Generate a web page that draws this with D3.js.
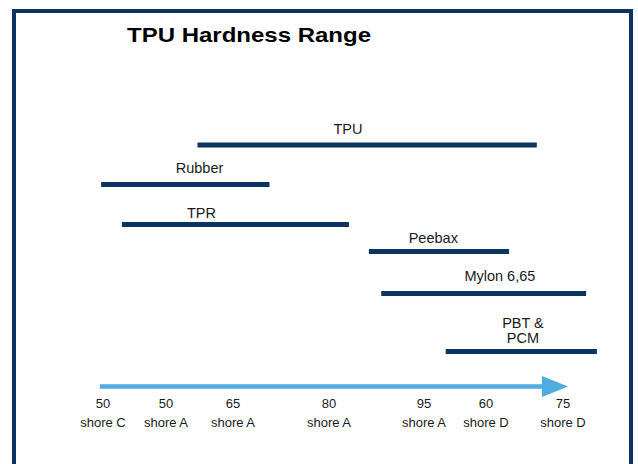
<!DOCTYPE html>
<html>
<head>
<meta charset="utf-8">
<script src="https://cdn.jsdelivr.net/npm/d3@7"></script>
<style>
  body { margin: 0; background: #fff; }
  svg text { font-family: "Liberation Sans", Arial, Helvetica, sans-serif; fill: #1a1a1a; }
</style>
</head>
<body>
<svg id="chart" width="638" height="464"></svg>
<script>
// hardness scale ticks (position along the arrow, in tick-index units)
const tickValues = ["50", "50", "65", "80", "95", "60", "75"];
const tickUnits  = ["shore C", "shore A", "shore A", "shore A", "shore A", "shore D", "shore D"];

// materials and their hardness ranges (tick-index units)
const materials = ["TPU", "Rubber", "TPR", "Peebax", "Mylon 6,65", "PBT &\nPCM"];
const rangeFrom = [1.47, -0.03, 0.30, 3.42, 3.55, 4.35];
const rangeTo   = [5.66, 2.38, 3.21, 5.30, 6.30, 6.44];
const labelAt   = [3.20, 1.50, 1.53, 4.15, 5.18, 5.48];

const width = 638, height = 464;
const navy = "#0b3461", sky = "#4dade0";

const svg = d3.select("#chart");

// frame
svg.append("rect")
    .attr("x", 14).attr("y", 11)
    .attr("width", 617).attr("height", 470)
    .attr("fill", "none")
    .attr("stroke", navy)
    .attr("stroke-width", 4);

svg.append("text")
    .attr("x", 127).attr("y", 42)
    .attr("textLength", 244)
    .attr("lengthAdjust", "spacingAndGlyphs")
    .style("font-size", "21px")
    .style("font-weight", "bold")
    .style("fill", "#000")
    .text("TPU Hardness Range");

// piecewise scale, tick spacing is uneven
const x = d3.scaleLinear()
    .domain(d3.range(tickValues.length))
    .range([103, 166, 233, 329, 424, 486, 563]);

// vertical slot per material row, and label gap above each bar
const rowY = [145, 184.5, 224.5, 251.5, 293.5, 351.5];
const labelGap = [11, 11.5, 7, 8.5, 12.5, 8.5];

const rows = materials.map((m, i) => ({name: m, from: rangeFrom[i], to: rangeTo[i], at: labelAt[i], y: rowY[i], gap: labelGap[i]}));

// BARS
svg.append("g")
  .selectAll("line")
  .data(rows)
  .join("line")
    .attr("x1", d => x(d.from))
    .attr("x2", d => x(d.to))
    .attr("y1", d => d.y)
    .attr("y2", d => d.y)
    .attr("stroke", navy)
    .attr("stroke-width", 5);

// BAR LABELS
const lbl = svg.append("g")
  .selectAll("text")
  .data(rows)
  .join("text")
    .attr("text-anchor", "middle")
    .style("font-size", "14.5px");

lbl.each(function(d) {
  const lines = d.name.split("\n");
  d3.select(this).selectAll("tspan")
    .data(lines)
    .join("tspan")
      .attr("x", x(d.at))
      .attr("y", (l, j) => d.y - d.gap - (lines.length - 1 - j) * 15)
      .text(l => l);
});

// ARROW AXIS
const ay = 386.5;
const x0 = x(-0.05), tip = x(6.065), headLen = 26;
svg.append("line")
    .attr("x1", x0).attr("x2", tip - headLen + 1)
    .attr("y1", ay).attr("y2", ay)
    .attr("stroke", sky)
    .attr("stroke-width", 4.5);
svg.append("path")
    .attr("d", d3.line()([[tip - headLen, ay - 10.5], [tip, ay], [tip - headLen, ay + 10.5]]))
    .attr("fill", sky);

// TICK LABELS
const ticks = svg.append("g")
  .selectAll("text")
  .data(tickValues.map((v, i) => ({v, u: tickUnits[i], i})))
  .join("text")
    .attr("text-anchor", "middle")
    .style("font-size", "13px");
ticks.append("tspan").attr("x", d => x(d.i)).attr("y", 408).text(d => d.v);
ticks.append("tspan").attr("x", d => x(d.i)).attr("y", 427).text(d => d.u);
</script>
</body>
</html>
